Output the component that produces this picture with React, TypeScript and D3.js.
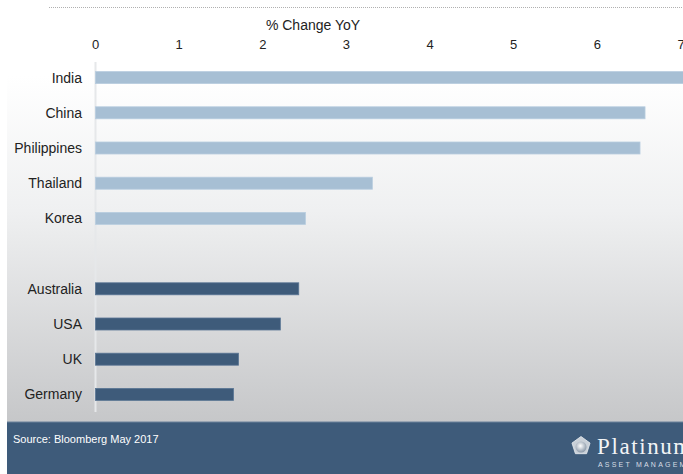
import React from "react";
import * as d3 from "d3";

const categories = ["India", "China", "Philippines", "Thailand", "Korea", "", "Australia", "USA", "UK", "Germany"];
const values = [7.1, 6.57, 6.51, 3.31, 2.51, null, 2.43, 2.21, 1.71, 1.65];
const groups = ["asia", "asia", "asia", "asia", "asia", "none", "dev", "dev", "dev", "dev"];
const ticks = [0, 1, 2, 3, 4, 5, 6, 7];
const axisTitle = "% Change YoY";
const source = "Source: Bloomberg May 2017";

const W = 683;
const H = 474;

export default function App() {
  const x = d3.scaleLinear().domain([0, 7]).range([95.5, 681]);
  const y = d3.scaleBand<number>().domain(d3.range(categories.length)).range([60, 412]).paddingInner(0.66).paddingOuter(0.33);
  const bh = 12;
  const colors: Record<string, string> = { asia: "#a7bfd4", dev: "#3e5b7a" };
  const strokes: Record<string, string> = { asia: "#b8cddf", dev: "#5a7694" };

  // pentagon logo
  const pcx = 581, pcy = 446, pr = 9.5;
  const pent = d3.range(5).map((i) => {
    const a = -Math.PI / 2 + (i * 2 * Math.PI) / 5;
    return [pcx + pr * Math.cos(a), pcy + pr * Math.sin(a)];
  });

  return (
    <div style={{ position: "fixed", left: 0, top: 0 }}>
      <svg width={W} height={H} style={{ display: "block", fontFamily: "'Liberation Sans', Arial, sans-serif" }}>
        <defs>
          <linearGradient id="bg" x1="0" y1="0" x2="0" y2="1">
            <stop offset="0" stopColor="#ffffff" />
            <stop offset="0.18" stopColor="#ffffff" />
            <stop offset="0.5" stopColor="#eff0f1" />
            <stop offset="1" stopColor="#c6c7c9" />
          </linearGradient>
          <radialGradient id="orb" cx="0.45" cy="0.4" r="0.6">
            <stop offset="0" stopColor="#ffffff" />
            <stop offset="1" stopColor="#8a98a8" />
          </radialGradient>
        </defs>
        <rect x={0} y={0} width={W} height={H} fill="#ffffff" />
        <rect x={7} y={0} width={W - 7} height={422} fill="url(#bg)" />
        <line x1={49} x2={W} y1={7.5} y2={7.5} stroke="#b0b0b0" strokeWidth={1} strokeDasharray="1,1" />
        <text x={313} y={30} textAnchor="middle" fontSize={14} fill="#222">{axisTitle}</text>
        {ticks.map((t) => (
          <text key={t} x={x(t)} y={49} textAnchor="middle" fontSize={13} fill="#222">{t}</text>
        ))}
        <line x1={x(0)} x2={x(0)} y1={62} y2={412} stroke="#e6e8ea" strokeWidth={2} />
        {categories.map((c, i) => {
          const v = values[i];
          const cy = (y(i) as number) + y.bandwidth() / 2;
          return (
            <g key={i}>
              {c && (
                <text x={82} y={cy + 5} textAnchor="end" fontSize={14} fill="#222">{c}</text>
              )}
              {v !== null && (
                <rect
                  x={x(0)}
                  y={cy - bh / 2}
                  width={x(v) - x(0)}
                  height={bh}
                  fill={colors[groups[i]]}
                  stroke={strokes[groups[i]]}
                  strokeWidth={0.8}
                />
              )}
            </g>
          );
        })}
        <rect x={7} y={422} width={W - 7} height={H - 422} fill="#3e5b7a" />
        <line x1={7} x2={W} y1={422} y2={422} stroke="#6b819a" strokeWidth={1} />
        <text x={13} y={443} fontSize={11} fill="#ffffff">{source}</text>
        <polygon points={pent.map((p) => p.join(",")).join(" ")} fill="#c9d0d8" stroke="#e8ecf0" strokeWidth={0.8} />
        <circle cx={pcx} cy={pcy + 1} r={5.5} fill="url(#orb)" />
        <text x={597} y={454} fontSize={23} fill="#f2f4f6" letterSpacing={1.6} fontFamily="'Liberation Serif', 'DejaVu Serif', serif">Platinum</text>
        <text x={598} y={467} fontSize={7} fill="#d8dee6" letterSpacing={2.2}>ASSET MANAGEMENT</text>
      </svg>
    </div>
  );
}
